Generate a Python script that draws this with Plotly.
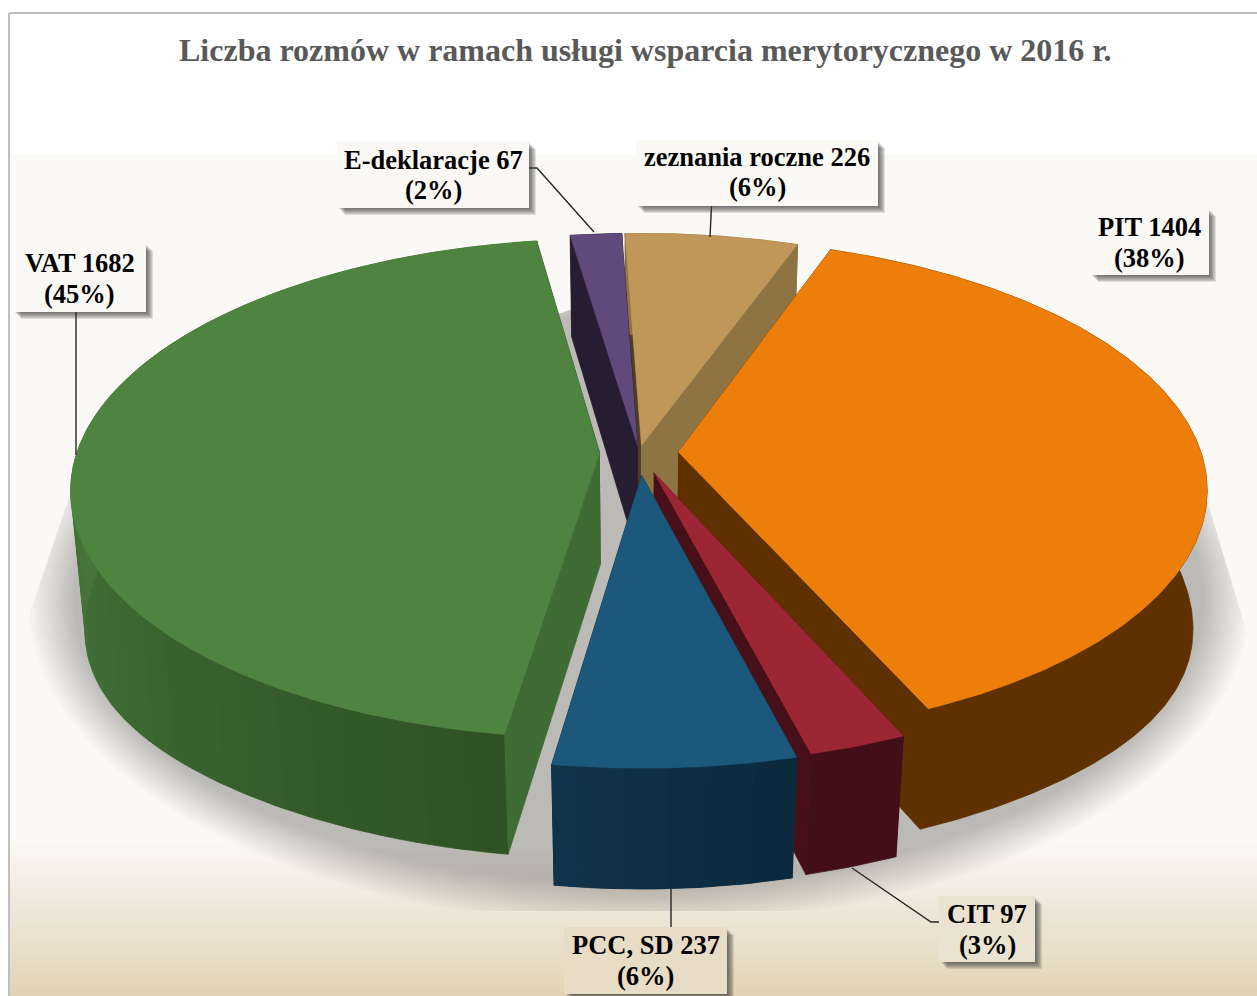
import numpy as np
import plotly.graph_objects as go

# ---- data ----
categories = ["PIT", "CIT", "PCC, SD", "VAT", "E-deklaracje", "zeznania roczne"]
values = [1404, 97, 237, 1682, 67, 226]
title_text = "Liczba rozmów w ramach usługi wsparcia merytorycznego w 2016 r."

# ---- pie style ----
START_ANGLE = 19.9
explode = [0.075, 0.085, 0.09, 0.075, 0.03, 0.03]
top_colors = ["#ee7e0a", "#9c2634", "#1b587c", "#4e8440", "#604a7b", "#bf9758"]
first_face = ["#5f3100", "#430f17", "#0e3046", "#3e6c34", "#271d33", "#4f3e22"]
last_face = ["#5f3100", "#470f18", "#0e3046", "#2f5226", "#271d33", "#8e7343"]
wall_stops = [
    [(0, "#5f3100"), (1, "#5f3100")],
    [(0, "#420f17"), (1, "#420f17")],
    [(0, "#0c293c"), (1, "#113349")],
    [(0, "#2f5226"), (0.12, "#345a29"), (0.32, "#3d6a32"), (0.5, "#47743a"), (1, "#4a7a3c")],
    [(0, "#271d33"), (1, "#271d33")],
    [(0, "#8e7343"), (1, "#8e7343")],
]
draw_order = [5, 4, 3, 0, 1, 2]

# projection of the pie's ground plane onto the picture
CX, CY, A, B, K, D, H, HX = 639.0, 453.0, 523.0, 244.5, 0.142, 0.025, 113.0, 22.0


def project(X, Y, z=0.0):
    w = 1 - K * Y + D * z
    return CX + A * X / w, CY + (B * Y + (H + HX * X ** 4) * z) / w


def hex2rgb(c):
    c = c.lstrip("#")
    return np.array([int(c[i:i + 2], 16) for i in (0, 2, 4)], float)


def mix(stops, t):
    ts = [s[0] for s in stops]
    cols = np.array([hex2rgb(s[1]) for s in stops])
    rgb = [np.interp(t, ts, cols[:, i]) for i in range(3)]
    return "rgb(%d,%d,%d)" % tuple(int(round(v)) for v in rgb)


def clip_convex(poly, clip):
    out = list(poly)
    n = len(clip)
    for i in range(n):
        ax, ay = clip[i]
        bx, by = clip[(i + 1) % n]
        inp, out = out, []
        side = lambda p: (bx - ax) * (p[1] - ay) - (by - ay) * (p[0] - ax)
        for j in range(len(inp)):
            p, q = inp[j], inp[(j + 1) % len(inp)]
            sp, sq = side(p), side(q)
            if sp >= 0:
                out.append(p)
            if sp * sq < 0:
                t = sp / (sp - sq)
                out.append((p[0] + t * (q[0] - p[0]), p[1] + t * (q[1] - p[1])))
        if not out:
            break
    return out


fig = go.Figure()


def poly(xs, ys, color, line=0.8):
    fig.add_trace(go.Scatter(
        x=list(xs), y=list(ys), mode="lines", fill="toself", fillcolor=color,
        line=dict(color=color, width=line), hoverinfo="skip", showlegend=False))


# ---- background ----
bg_stops = [(840, "#fbf9f5"), (870, "#f6f0e8"), (911, "#efe6d8"), (960, "#e8dcc6"), (996, "#e2d1b4")]
shapes = [dict(type="rect", xref="x", yref="y", x0=10, x1=1257, y0=155, y1=840,
               fillcolor="#fbf9f5", line_width=0, layer="below")]
for y0 in range(840, 996, 3):
    shapes.append(dict(type="rect", xref="x", yref="y", x0=10, x1=1257, y0=y0, y1=y0 + 3.5,
                       fillcolor=mix(bg_stops, y0 + 1.5), line_width=0, layer="below"))
shapes.append(dict(type="line", xref="x", yref="y", x0=9, x1=9, y0=13, y1=996,
                   line=dict(color="#bfbfbf", width=2), layer="below"))
shapes.append(dict(type="line", xref="x", yref="y", x0=9, x1=1257, y0=13, y1=13,
                   line=dict(color="#bfbfbf", width=2), layer="below"))

# ---- soft shadow under the pie ----
clip_region = [(70, 494), (569, 310), (700, 310), (1208, 503), (1257, 666),
               (1257, 911), (11, 911), (11, 668)]
N_LAYERS = 16
phi = np.radians(np.arange(0, 360, 2))
for i in range(N_LAYERS):
    t = i / (N_LAYERS - 1)
    a = 612 - 47 * t
    b = 325 - 40 * t
    ell = [(639 + a * np.cos(p), 600 + b * np.sin(p)) for p in phi]
    pts = clip_convex(ell, clip_region)
    xs, ys = zip(*pts)
    poly(xs, ys, "rgba(0,0,0,0.014)", line=0)

# ---- pie ----
total = sum(values)
sweeps = [v / total * 360 for v in values]
starts = START_ANGLE + np.concatenate([[0], np.cumsum(sweeps)[:-1]])

for idx in draw_order:
    a0, a1 = starts[idx], starts[idx] + sweeps[idx]
    bis = np.radians((a0 + a1) / 2)
    ox, oy = explode[idx] * np.sin(bis), -explode[idx] * np.cos(bis)
    th = np.radians(np.linspace(a0, a1, max(int(sweeps[idx] * 1.5), 6) + 1))
    rimX, rimY = ox + np.sin(th), oy - np.cos(th)

    # radial cut faces, the one further back first
    faces = [(rimX[0], rimY[0], first_face[idx]), (rimX[-1], rimY[-1], last_face[idx])]
    faces.sort(key=lambda f: f[1])
    for ex, ey, col in faces:
        p = [project(ox, oy), project(ex, ey), project(ex, ey, 1), project(ox, oy, 1)]
        poly([q[0] for q in p], [q[1] for q in p], col)

    # outer wall, in bands so that the shading can follow the angle
    stops = wall_stops[idx]
    uniform = len({s[1] for s in stops}) == 1
    tx, ty = project(rimX, rimY)
    bx, by = project(rimX, rimY, 1)
    poly(np.r_[tx, bx[::-1]], np.r_[ty, by[::-1]], mix(stops, 0.5))
    if not uniform:
        step = 6
        n = len(th) - 1
        for s in range(0, n, step):
            e = min(s + step + 2, n)  # overlaps the next band, which paints over it
            poly(np.r_[tx[s:e + 1], bx[s:e + 1][::-1]], np.r_[ty[s:e + 1], by[s:e + 1][::-1]],
                 mix(stops, (s + step / 2) / n), line=0)

    # top surface
    ax_, ay_ = project(ox, oy)
    poly(np.r_[ax_, tx], np.r_[ay_, ty], top_colors[idx], line=0.5)

# ---- labels ----
pct = [round(v / total * 100) for v in values]
label_boxes = [
    (1090, 208, 1209, 275), (939, 896, 1035, 962), (564, 927, 727, 994),
    (13, 243, 146, 312), (337, 141, 529, 208), (636, 140, 878, 206),
]
label_text_y = [(227, 258), (914, 945), (945, 976), (263, 294), (160, 190), (157, 187)]
leaders = [
    None,
    ([852, 931, 943], [868, 922, 922]),
    ([671, 671], [888, 929]),
    ([76, 76], [312, 455]),
    ([526, 537, 594], [168, 168, 232]),
    ([728, 712, 710], [196, 196, 237]),
]
annotations = [dict(text="<b>%s</b>" % title_text, x=645, y=50, xref="x", yref="y", showarrow=False,
                    font=dict(family="Liberation Serif", size=32, color="#595959"))]
for i, (x0, y0, x1, y1) in enumerate(label_boxes):
    for k in range(7):
        o = 1 + k
        shapes.append(dict(type="rect", xref="x", yref="y", x0=x0 + o + 1, x1=x1 + o, y0=y0 + o + 1, y1=y1 + o,
                           fillcolor="rgba(60,60,60,0.14)", line_width=0, layer="above"))
    bg = "#fbf9f5" if y1 < 840 else mix(bg_stops, (y0 + y1) / 2)
    shapes.append(dict(type="rect", xref="x", yref="y", x0=x0, x1=x1, y0=y0, y1=y1,
                       fillcolor=bg, line_width=0, layer="above"))
    cx = (x0 + x1) / 2
    line1 = "%s %d" % (categories[i], values[i])
    line2 = "(%d%%)" % pct[i]
    for txt, yy in zip((line1, line2), label_text_y[i]):
        annotations.append(dict(text="<b>%s</b>" % txt, x=cx, y=yy, xref="x", yref="y", showarrow=False,
                                font=dict(family="Liberation Serif", size=26.5, color="#000000")))
    if leaders[i]:
        fig.add_trace(go.Scatter(x=leaders[i][0], y=leaders[i][1], mode="lines",
                                 line=dict(color="#262626", width=1.4), hoverinfo="skip", showlegend=False))

fig.update_layout(
    width=1257, height=996, margin=dict(l=0, r=0, t=0, b=0), paper_bgcolor="#ffffff", plot_bgcolor="#ffffff",
    xaxis=dict(range=[0, 1257], visible=False, fixedrange=True),
    yaxis=dict(range=[996, 0], visible=False, fixedrange=True),
    shapes=shapes, annotations=annotations,
)
fig.write_html("out.html", config={"displayModeBar": False},
               post_script="document.body.style.margin='0';document.body.style.overflow='hidden';")
